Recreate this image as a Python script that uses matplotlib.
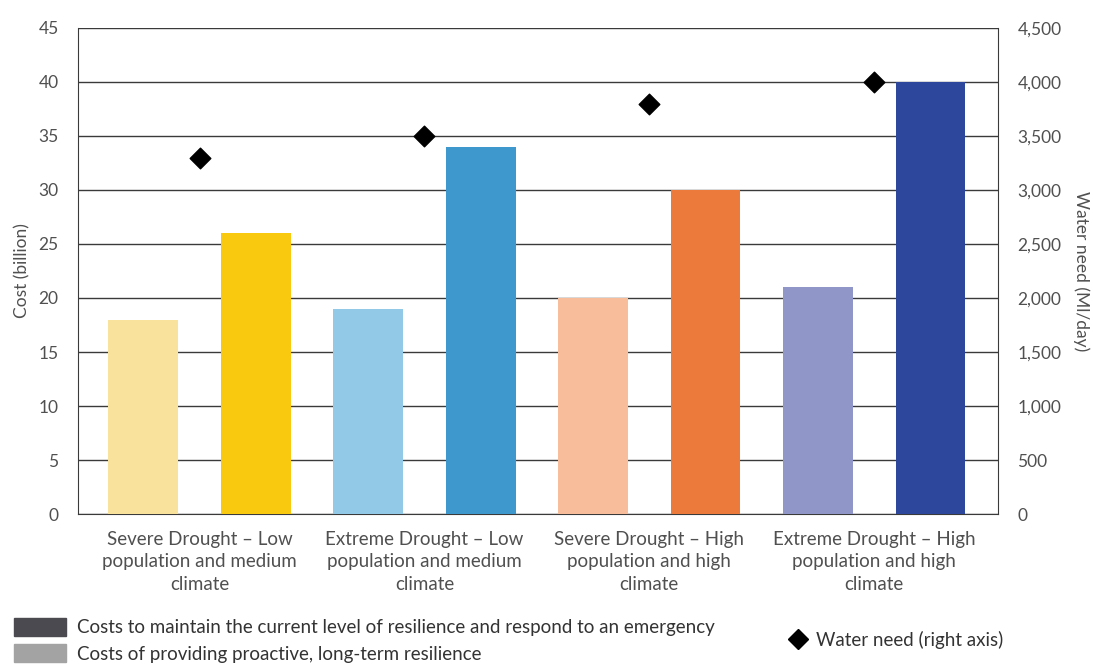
import matplotlib.pyplot as plt
import numpy as np
from matplotlib.patches import Patch
from matplotlib.lines import Line2D

plt.rcParams['font.family'] = ['Lato', 'DejaVu Sans']

scenarios = ['Severe Drought – Low\npopulation and medium\nclimate',
             'Extreme Drought – Low\npopulation and medium\nclimate',
             'Severe Drought – High\npopulation and high\nclimate',
             'Extreme Drought – High\npopulation and high\nclimate']
maintain_cost = [18, 19, 20, 21]
proactive_cost = [26, 34, 30, 40]
water_need = [3300, 3500, 3800, 4000]

light_colors = ['#F9E29C', '#92C9E6', '#F8BE9C', '#9096C8']
dark_colors = ['#F8C90F', '#3E97CD', '#EC7A3A', '#2C479B']

text_col = '#505050'

fig = plt.figure(figsize=(10.93, 6.65), dpi=100)
ax = fig.add_axes([0.0714, 0.227, 0.8417, 0.731])
ax2 = ax.twinx()

x = np.arange(len(scenarios))
w = 0.31
off = 0.25
ax.bar(x - off, maintain_cost, w, color=light_colors, zorder=3)
ax.bar(x + off, proactive_cost, w, color=dark_colors, zorder=3)

ax.set_ylim(0, 45)
ax.set_yticks(range(0, 46, 5))
ax.set_xlim(-0.54, 3.55)
ax.grid(axis='y', color='#3a3a3a', linewidth=1, zorder=0)
ax.set_axisbelow(True)
ax.set_xticks(x)
ax.set_xticklabels(scenarios, fontsize=13.5, color=text_col, linespacing=1.4)
ax.tick_params(axis='x', length=0, pad=12)
ax.tick_params(axis='y', length=0, labelsize=12.5, labelcolor=text_col, pad=14)
ax.set_ylabel('Cost (billion)', fontsize=12.5, color=text_col, labelpad=6)
for s in ['left', 'right', 'bottom', 'top']:
    ax.spines[s].set_color('#3a3a3a')
ax.spines['top'].set_visible(False)

ax2.scatter(x, water_need, marker='D', s=110, color='black', zorder=5)
ax2.set_ylim(0, 4500)
ax2.set_yticks(range(0, 4501, 500))
ax2.set_yticklabels([f'{v:,}' for v in range(0, 4501, 500)])
ax2.tick_params(axis='y', length=0, labelsize=12.5, labelcolor=text_col, pad=14)
ax2.set_ylabel('Water need (Ml/day)', fontsize=12.5, color=text_col, rotation=270, labelpad=20)
for s in ['left', 'right', 'bottom', 'top']:
    ax2.spines[s].set_visible(False)

h1 = [Patch(color='#4A4A50', label='Costs to maintain the current level of resilience and respond to an emergency'),
      Patch(color='#A3A3A3', label='Costs of providing proactive, long-term resilience')]
fig.legend(handles=h1, loc='lower left', bbox_to_anchor=(-0.003, -0.022), frameon=False,
           fontsize=13.5, handlelength=2.8, handleheight=1.1, labelspacing=0.45,
           handletextpad=0.6, labelcolor='#333333')
h2 = [Line2D([], [], marker='D', color='black', linestyle='none', markersize=10,
             label='Water need (right axis)')]
fig.legend(handles=h2, loc='center left', bbox_to_anchor=(0.706, 0.0376), frameon=False,
           fontsize=13.5, handlelength=1.0, handletextpad=0.45, labelcolor='#333333')

fig.savefig('out.png', dpi=100)
